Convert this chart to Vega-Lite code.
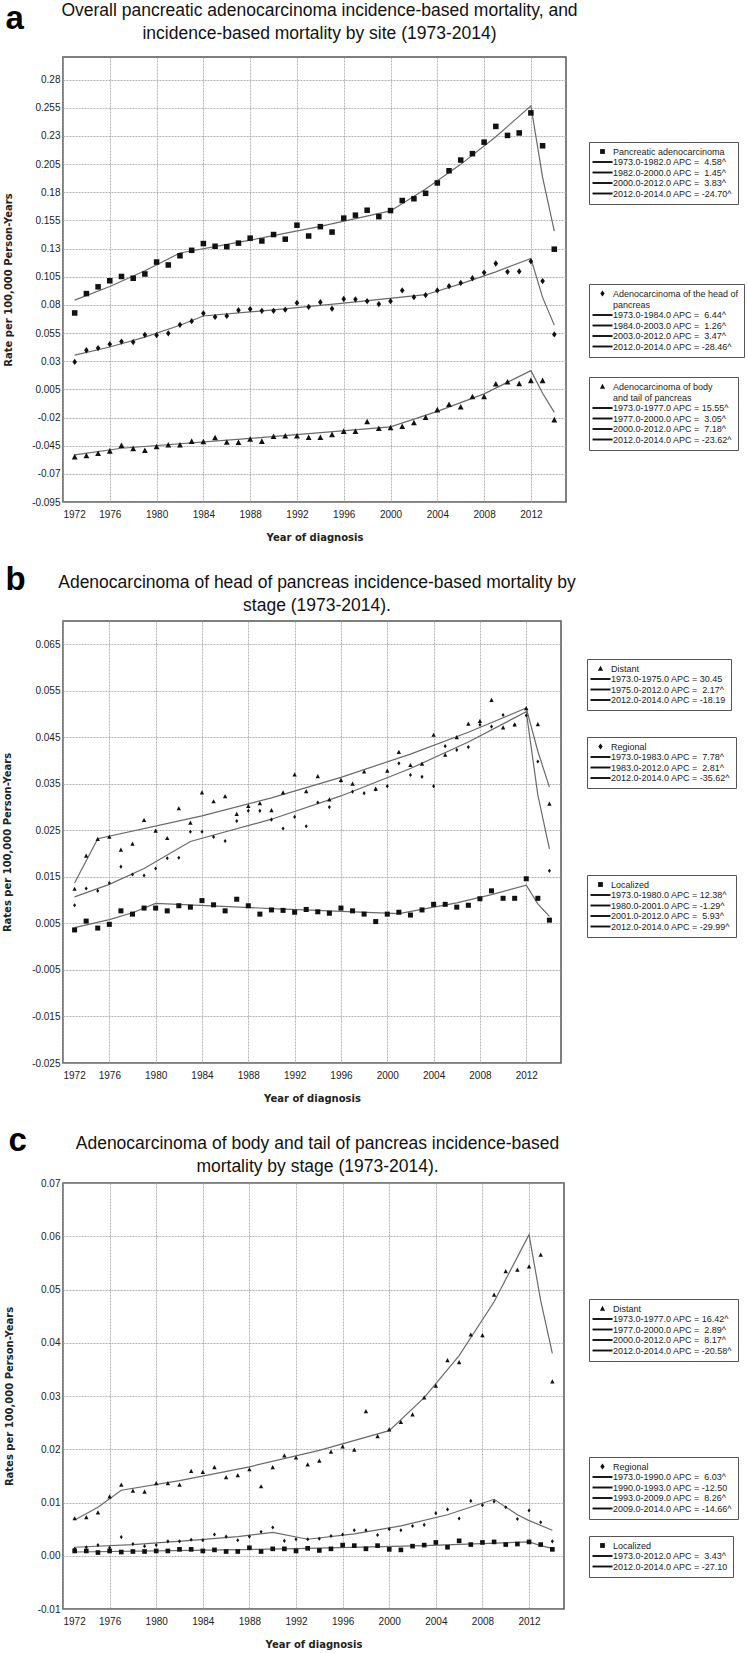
{
"$schema": "https://vega.github.io/schema/vega-lite/v6.json",
"padding": {"left": 1, "top": 0, "right": 0, "bottom": 0},
"background": "white",
"config": {
  "view": {"stroke": "#555", "strokeWidth": 1.5},
  "axis": {"labelFont": "Liberation Sans", "labelFontSize": 10, "labelColor": "#222", "titleFont": "DejaVu Sans", "titleFontSize": 10, "titleFontWeight": "bold", "titleColor": "#222", "gridColor": "#a0a0a0", "gridDash": [2, 1], "gridWidth": 0.8, "ticks": false, "domain": false, "labelOverlap": false},
  "title": {"font": "Liberation Sans", "fontSize": 17.5, "fontWeight": "normal", "color": "#111", "lineHeight": 23},
  "legend": {"labelFont": "Liberation Sans", "labelFontSize": 9, "labelColor": "#222", "labelLimit": 400, "symbolSize": 64, "symbolStrokeWidth": 0, "symbolFillColor": "#111", "symbolOffset": 4, "labelOffset": 6, "padding": 5, "rowPadding": 0.5, "strokeColor": "#555", "fillColor": "white"},
  "point": {"filled": true, "opacity": 1, "color": "#111"},
  "line": {"color": "#6a6a6a", "strokeWidth": 1.2}
},
"datasets": {
  "a1f": [{"x":1973,"y":0.0842},{"x":1976,"y":0.0963},{"x":1979,"y":0.1102},{"x":1982,"y":0.126},{"x":1988,"y":0.1374},{"x":1994,"y":0.1497},{"x":2000,"y":0.1634},{"x":2003,"y":0.1829},{"x":2006,"y":0.2047},{"x":2009,"y":0.2292},{"x":2012,"y":0.2566},{"x":2013,"y":0.1932},{"x":2014,"y":0.1455}],
  "a2f": [{"x":1973,"y":0.0353},{"x":1976,"y":0.0426},{"x":1979,"y":0.0513},{"x":1982,"y":0.0619},{"x":1984,"y":0.0701},{"x":1990,"y":0.0756},{"x":1996,"y":0.0815},{"x":2003,"y":0.089},{"x":2006,"y":0.0986},{"x":2009,"y":0.1093},{"x":2012,"y":0.1211},{"x":2013,"y":0.0866},{"x":2014,"y":0.062}],
  "a3f": [{"x":1973,"y":-0.0532},{"x":1977,"y":-0.0473},{"x":1988,"y":-0.0385},{"x":2000,"y":-0.0283},{"x":2004,"y":-0.0145},{"x":2008,"y":0.001},{"x":2012,"y":0.0216},{"x":2013,"y":0.0015},{"x":2014,"y":-0.0155}],
  "a1o": [{"x":1973,"y":0.0728,"s":"obs"},{"x":1974,"y":0.09,"s":"obs"},{"x":1975,"y":0.096,"s":"obs"},{"x":1976,"y":0.1014,"s":"obs"},{"x":1977,"y":0.1052,"s":"obs"},{"x":1978,"y":0.1036,"s":"obs"},{"x":1979,"y":0.1074,"s":"obs"},{"x":1980,"y":0.118,"s":"obs"},{"x":1981,"y":0.1154,"s":"obs"},{"x":1982,"y":0.1236,"s":"obs"},{"x":1983,"y":0.1284,"s":"obs"},{"x":1984,"y":0.1344,"s":"obs"},{"x":1985,"y":0.132,"s":"obs"},{"x":1986,"y":0.1316,"s":"obs"},{"x":1987,"y":0.1348,"s":"obs"},{"x":1988,"y":0.1392,"s":"obs"},{"x":1989,"y":0.1367,"s":"obs"},{"x":1990,"y":0.1424,"s":"obs"},{"x":1991,"y":0.1383,"s":"obs"},{"x":1992,"y":0.1507,"s":"obs"},{"x":1993,"y":0.1411,"s":"obs"},{"x":1994,"y":0.1494,"s":"obs"},{"x":1995,"y":0.1446,"s":"obs"},{"x":1996,"y":0.157,"s":"obs"},{"x":1997,"y":0.1596,"s":"obs"},{"x":1998,"y":0.164,"s":"obs"},{"x":1999,"y":0.1583,"s":"obs"},{"x":2000,"y":0.1637,"s":"obs"},{"x":2001,"y":0.1726,"s":"obs"},{"x":2002,"y":0.1742,"s":"obs"},{"x":2003,"y":0.179,"s":"obs"},{"x":2004,"y":0.1882,"s":"obs"},{"x":2005,"y":0.199,"s":"obs"},{"x":2006,"y":0.2085,"s":"obs"},{"x":2007,"y":0.2142,"s":"obs"},{"x":2008,"y":0.2244,"s":"obs"},{"x":2009,"y":0.2384,"s":"obs"},{"x":2010,"y":0.2304,"s":"obs"},{"x":2011,"y":0.2326,"s":"obs"},{"x":2012,"y":0.2504,"s":"obs"},{"x":2013,"y":0.2212,"s":"obs"},{"x":2014,"y":0.1294,"s":"obs"}],
  "a2o": [{"x":1973,"y":0.0293,"s":"obs"},{"x":1974,"y":0.0397,"s":"obs"},{"x":1975,"y":0.0416,"s":"obs"},{"x":1976,"y":0.0451,"s":"obs"},{"x":1977,"y":0.0474,"s":"obs"},{"x":1978,"y":0.047,"s":"obs"},{"x":1979,"y":0.0534,"s":"obs"},{"x":1980,"y":0.0531,"s":"obs"},{"x":1981,"y":0.0547,"s":"obs"},{"x":1982,"y":0.0623,"s":"obs"},{"x":1983,"y":0.0655,"s":"obs"},{"x":1984,"y":0.0725,"s":"obs"},{"x":1985,"y":0.0693,"s":"obs"},{"x":1986,"y":0.0702,"s":"obs"},{"x":1987,"y":0.0753,"s":"obs"},{"x":1988,"y":0.0763,"s":"obs"},{"x":1989,"y":0.0747,"s":"obs"},{"x":1990,"y":0.0747,"s":"obs"},{"x":1991,"y":0.0757,"s":"obs"},{"x":1992,"y":0.0817,"s":"obs"},{"x":1993,"y":0.0782,"s":"obs"},{"x":1994,"y":0.0823,"s":"obs"},{"x":1995,"y":0.0766,"s":"obs"},{"x":1996,"y":0.0852,"s":"obs"},{"x":1997,"y":0.0849,"s":"obs"},{"x":1998,"y":0.0833,"s":"obs"},{"x":1999,"y":0.0807,"s":"obs"},{"x":2000,"y":0.0833,"s":"obs"},{"x":2001,"y":0.0928,"s":"obs"},{"x":2002,"y":0.0868,"s":"obs"},{"x":2003,"y":0.0887,"s":"obs"},{"x":2004,"y":0.0928,"s":"obs"},{"x":2005,"y":0.0966,"s":"obs"},{"x":2006,"y":0.0995,"s":"obs"},{"x":2007,"y":0.1036,"s":"obs"},{"x":2008,"y":0.1087,"s":"obs"},{"x":2009,"y":0.1167,"s":"obs"},{"x":2010,"y":0.1093,"s":"obs"},{"x":2011,"y":0.1097,"s":"obs"},{"x":2012,"y":0.1186,"s":"obs"},{"x":2013,"y":0.1011,"s":"obs"},{"x":2014,"y":0.0537,"s":"obs"}],
  "a3o": [{"x":1973,"y":-0.055,"s":"obs"},{"x":1974,"y":-0.054,"s":"obs"},{"x":1975,"y":-0.052,"s":"obs"},{"x":1976,"y":-0.0499,"s":"obs"},{"x":1977,"y":-0.0449,"s":"obs"},{"x":1978,"y":-0.0477,"s":"obs"},{"x":1979,"y":-0.0493,"s":"obs"},{"x":1980,"y":-0.0461,"s":"obs"},{"x":1981,"y":-0.0445,"s":"obs"},{"x":1982,"y":-0.0445,"s":"obs"},{"x":1983,"y":-0.0413,"s":"obs"},{"x":1984,"y":-0.0416,"s":"obs"},{"x":1985,"y":-0.0381,"s":"obs"},{"x":1986,"y":-0.042,"s":"obs"},{"x":1987,"y":-0.0423,"s":"obs"},{"x":1988,"y":-0.0394,"s":"obs"},{"x":1989,"y":-0.0413,"s":"obs"},{"x":1990,"y":-0.0369,"s":"obs"},{"x":1991,"y":-0.0365,"s":"obs"},{"x":1992,"y":-0.0365,"s":"obs"},{"x":1993,"y":-0.0378,"s":"obs"},{"x":1994,"y":-0.0378,"s":"obs"},{"x":1995,"y":-0.0353,"s":"obs"},{"x":1996,"y":-0.0324,"s":"obs"},{"x":1997,"y":-0.0324,"s":"obs"},{"x":1998,"y":-0.0238,"s":"obs"},{"x":1999,"y":-0.0299,"s":"obs"},{"x":2000,"y":-0.0292,"s":"obs"},{"x":2001,"y":-0.028,"s":"obs"},{"x":2002,"y":-0.0248,"s":"obs"},{"x":2003,"y":-0.02,"s":"obs"},{"x":2004,"y":-0.0133,"s":"obs"},{"x":2005,"y":-0.0086,"s":"obs"},{"x":2006,"y":-0.0108,"s":"obs"},{"x":2007,"y":-0.0016,"s":"obs"},{"x":2008,"y":-0.0016,"s":"obs"},{"x":2009,"y":0.0096,"s":"obs"},{"x":2010,"y":0.0115,"s":"obs"},{"x":2011,"y":0.0099,"s":"obs"},{"x":2012,"y":0.0127,"s":"obs"},{"x":2013,"y":0.0127,"s":"obs"},{"x":2014,"y":-0.0222,"s":"obs"}],
  "b1f": [{"x":1973,"y":0.0137},{"x":1975,"y":0.0232},{"x":1984,"y":0.0281},{"x":1990,"y":0.032},{"x":1996,"y":0.0364},{"x":2002,"y":0.0414},{"x":2007,"y":0.0461},{"x":2012,"y":0.0513},{"x":2013,"y":0.042},{"x":2014,"y":0.0343}],
  "b2f": [{"x":1973,"y":0.0107},{"x":1976,"y":0.0134},{"x":1979,"y":0.0168},{"x":1983,"y":0.0226},{"x":1990,"y":0.0274},{"x":1996,"y":0.0324},{"x":2002,"y":0.0383},{"x":2007,"y":0.044},{"x":2012,"y":0.0505},{"x":2013,"y":0.0326},{"x":2014,"y":0.021}],
  "b3f": [{"x":1973,"y":0.0041},{"x":1976,"y":0.0058},{"x":1978,"y":0.0073},{"x":1980,"y":0.0093},{"x":1990,"y":0.0082},{"x":2001,"y":0.0071},{"x":2006,"y":0.0094},{"x":2009,"y":0.0112},{"x":2012,"y":0.0132},{"x":2013,"y":0.0092},{"x":2014,"y":0.0065}],
  "b1o": [{"x":1973,"y":0.0124,"s":"obs"},{"x":1974,"y":0.0195,"s":"obs"},{"x":1975,"y":0.0231,"s":"obs"},{"x":1976,"y":0.0236,"s":"obs"},{"x":1977,"y":0.0208,"s":"obs"},{"x":1978,"y":0.0221,"s":"obs"},{"x":1979,"y":0.0272,"s":"obs"},{"x":1980,"y":0.0249,"s":"obs"},{"x":1981,"y":0.0233,"s":"obs"},{"x":1982,"y":0.0297,"s":"obs"},{"x":1983,"y":0.0266,"s":"obs"},{"x":1984,"y":0.0331,"s":"obs"},{"x":1985,"y":0.0312,"s":"obs"},{"x":1986,"y":0.0323,"s":"obs"},{"x":1987,"y":0.0285,"s":"obs"},{"x":1988,"y":0.0302,"s":"obs"},{"x":1989,"y":0.0308,"s":"obs"},{"x":1990,"y":0.0293,"s":"obs"},{"x":1991,"y":0.0331,"s":"obs"},{"x":1992,"y":0.037,"s":"obs"},{"x":1993,"y":0.0334,"s":"obs"},{"x":1994,"y":0.0366,"s":"obs"},{"x":1995,"y":0.0316,"s":"obs"},{"x":1996,"y":0.0358,"s":"obs"},{"x":1997,"y":0.035,"s":"obs"},{"x":1998,"y":0.0376,"s":"obs"},{"x":1999,"y":0.0339,"s":"obs"},{"x":2000,"y":0.0378,"s":"obs"},{"x":2001,"y":0.0418,"s":"obs"},{"x":2002,"y":0.039,"s":"obs"},{"x":2003,"y":0.0393,"s":"obs"},{"x":2004,"y":0.0455,"s":"obs"},{"x":2005,"y":0.0412,"s":"obs"},{"x":2006,"y":0.045,"s":"obs"},{"x":2007,"y":0.0479,"s":"obs"},{"x":2008,"y":0.0485,"s":"obs"},{"x":2009,"y":0.053,"s":"obs"},{"x":2010,"y":0.0471,"s":"obs"},{"x":2011,"y":0.0477,"s":"obs"},{"x":2012,"y":0.0512,"s":"obs"},{"x":2013,"y":0.0478,"s":"obs"},{"x":2014,"y":0.0307,"s":"obs"}],
  "b2o": [{"x":1973,"y":0.0089,"s":"obs"},{"x":1974,"y":0.0125,"s":"obs"},{"x":1975,"y":0.012,"s":"obs"},{"x":1976,"y":0.0137,"s":"obs"},{"x":1977,"y":0.0172,"s":"obs"},{"x":1978,"y":0.0155,"s":"obs"},{"x":1979,"y":0.0153,"s":"obs"},{"x":1980,"y":0.0168,"s":"obs"},{"x":1981,"y":0.019,"s":"obs"},{"x":1982,"y":0.0191,"s":"obs"},{"x":1983,"y":0.0247,"s":"obs"},{"x":1984,"y":0.0247,"s":"obs"},{"x":1985,"y":0.0236,"s":"obs"},{"x":1986,"y":0.0227,"s":"obs"},{"x":1987,"y":0.027,"s":"obs"},{"x":1988,"y":0.0292,"s":"obs"},{"x":1989,"y":0.0292,"s":"obs"},{"x":1990,"y":0.0273,"s":"obs"},{"x":1991,"y":0.0254,"s":"obs"},{"x":1992,"y":0.0279,"s":"obs"},{"x":1993,"y":0.0259,"s":"obs"},{"x":1994,"y":0.031,"s":"obs"},{"x":1995,"y":0.03,"s":"obs"},{"x":1996,"y":0.0356,"s":"obs"},{"x":1997,"y":0.0333,"s":"obs"},{"x":1998,"y":0.033,"s":"obs"},{"x":1999,"y":0.0338,"s":"obs"},{"x":2000,"y":0.0345,"s":"obs"},{"x":2001,"y":0.0394,"s":"obs"},{"x":2002,"y":0.0369,"s":"obs"},{"x":2003,"y":0.0365,"s":"obs"},{"x":2004,"y":0.0345,"s":"obs"},{"x":2005,"y":0.0431,"s":"obs"},{"x":2006,"y":0.0423,"s":"obs"},{"x":2007,"y":0.0429,"s":"obs"},{"x":2008,"y":0.0477,"s":"obs"},{"x":2009,"y":0.0473,"s":"obs"},{"x":2010,"y":0.0498,"s":"obs"},{"x":2011,"y":0.0477,"s":"obs"},{"x":2012,"y":0.0497,"s":"obs"},{"x":2013,"y":0.0398,"s":"obs"},{"x":2014,"y":0.0163,"s":"obs"}],
  "b3o": [{"x":1973,"y":0.0036,"s":"obs"},{"x":1974,"y":0.0055,"s":"obs"},{"x":1975,"y":0.004,"s":"obs"},{"x":1976,"y":0.0048,"s":"obs"},{"x":1977,"y":0.0077,"s":"obs"},{"x":1978,"y":0.007,"s":"obs"},{"x":1979,"y":0.0083,"s":"obs"},{"x":1980,"y":0.0083,"s":"obs"},{"x":1981,"y":0.0077,"s":"obs"},{"x":1982,"y":0.0088,"s":"obs"},{"x":1983,"y":0.0085,"s":"obs"},{"x":1984,"y":0.0099,"s":"obs"},{"x":1985,"y":0.009,"s":"obs"},{"x":1986,"y":0.0077,"s":"obs"},{"x":1987,"y":0.0102,"s":"obs"},{"x":1988,"y":0.0088,"s":"obs"},{"x":1989,"y":0.007,"s":"obs"},{"x":1990,"y":0.0079,"s":"obs"},{"x":1991,"y":0.0078,"s":"obs"},{"x":1992,"y":0.0074,"s":"obs"},{"x":1993,"y":0.008,"s":"obs"},{"x":1994,"y":0.0075,"s":"obs"},{"x":1995,"y":0.0072,"s":"obs"},{"x":1996,"y":0.0083,"s":"obs"},{"x":1997,"y":0.0077,"s":"obs"},{"x":1998,"y":0.007,"s":"obs"},{"x":1999,"y":0.0054,"s":"obs"},{"x":2000,"y":0.007,"s":"obs"},{"x":2001,"y":0.0074,"s":"obs"},{"x":2002,"y":0.0068,"s":"obs"},{"x":2003,"y":0.0079,"s":"obs"},{"x":2004,"y":0.0091,"s":"obs"},{"x":2005,"y":0.0091,"s":"obs"},{"x":2006,"y":0.0085,"s":"obs"},{"x":2007,"y":0.0089,"s":"obs"},{"x":2008,"y":0.0103,"s":"obs"},{"x":2009,"y":0.012,"s":"obs"},{"x":2010,"y":0.0104,"s":"obs"},{"x":2011,"y":0.0104,"s":"obs"},{"x":2012,"y":0.0146,"s":"obs"},{"x":2013,"y":0.0104,"s":"obs"},{"x":2014,"y":0.0057,"s":"obs"}],
  "c1f": [{"x":1973,"y":0.0067},{"x":1975,"y":0.0091},{"x":1977,"y":0.0123},{"x":1982,"y":0.0141},{"x":1988,"y":0.0167},{"x":1994,"y":0.0198},{"x":2000,"y":0.0235},{"x":2003,"y":0.0297},{"x":2006,"y":0.0376},{"x":2009,"y":0.0477},{"x":2012,"y":0.0603},{"x":2013,"y":0.0479},{"x":2014,"y":0.038}],
  "c2f": [{"x":1973,"y":0.0016},{"x":1978,"y":0.0021},{"x":1983,"y":0.0029},{"x":1987,"y":0.0036},{"x":1990,"y":0.0044},{"x":1993,"y":0.0031},{"x":1997,"y":0.0041},{"x":2001,"y":0.0056},{"x":2005,"y":0.0077},{"x":2009,"y":0.0106},{"x":2011,"y":0.0077},{"x":2012,"y":0.0066},{"x":2014,"y":0.0048}],
  "c3f": [{"x":1973,"y":0.0007},{"x":1983,"y":0.001},{"x":1993,"y":0.00137},{"x":2003,"y":0.0019},{"x":2012,"y":0.0026},{"x":2013,"y":0.0019},{"x":2014,"y":0.0014}],
  "c1o": [{"x":1973,"y":0.007,"s":"obs"},{"x":1974,"y":0.0072,"s":"obs"},{"x":1975,"y":0.0081,"s":"obs"},{"x":1976,"y":0.0111,"s":"obs"},{"x":1977,"y":0.0133,"s":"obs"},{"x":1978,"y":0.0122,"s":"obs"},{"x":1979,"y":0.012,"s":"obs"},{"x":1980,"y":0.0136,"s":"obs"},{"x":1981,"y":0.0136,"s":"obs"},{"x":1982,"y":0.0133,"s":"obs"},{"x":1983,"y":0.0159,"s":"obs"},{"x":1984,"y":0.0157,"s":"obs"},{"x":1985,"y":0.0166,"s":"obs"},{"x":1986,"y":0.0147,"s":"obs"},{"x":1987,"y":0.0151,"s":"obs"},{"x":1988,"y":0.0162,"s":"obs"},{"x":1989,"y":0.013,"s":"obs"},{"x":1990,"y":0.0166,"s":"obs"},{"x":1991,"y":0.0188,"s":"obs"},{"x":1992,"y":0.0184,"s":"obs"},{"x":1993,"y":0.0171,"s":"obs"},{"x":1994,"y":0.0178,"s":"obs"},{"x":1995,"y":0.0195,"s":"obs"},{"x":1996,"y":0.0205,"s":"obs"},{"x":1997,"y":0.0199,"s":"obs"},{"x":1998,"y":0.0271,"s":"obs"},{"x":1999,"y":0.0224,"s":"obs"},{"x":2000,"y":0.0237,"s":"obs"},{"x":2001,"y":0.0251,"s":"obs"},{"x":2002,"y":0.0265,"s":"obs"},{"x":2003,"y":0.0297,"s":"obs"},{"x":2004,"y":0.0319,"s":"obs"},{"x":2005,"y":0.0367,"s":"obs"},{"x":2006,"y":0.0363,"s":"obs"},{"x":2007,"y":0.0415,"s":"obs"},{"x":2008,"y":0.0414,"s":"obs"},{"x":2009,"y":0.049,"s":"obs"},{"x":2010,"y":0.0534,"s":"obs"},{"x":2011,"y":0.0537,"s":"obs"},{"x":2012,"y":0.0543,"s":"obs"},{"x":2013,"y":0.0565,"s":"obs"},{"x":2014,"y":0.0327,"s":"obs"}],
  "c2o": [{"x":1973,"y":0.0013,"s":"obs"},{"x":1974,"y":0.0016,"s":"obs"},{"x":1975,"y":0.002,"s":"obs"},{"x":1976,"y":0.0015,"s":"obs"},{"x":1977,"y":0.0035,"s":"obs"},{"x":1978,"y":0.0022,"s":"obs"},{"x":1979,"y":0.0018,"s":"obs"},{"x":1980,"y":0.002,"s":"obs"},{"x":1981,"y":0.0027,"s":"obs"},{"x":1982,"y":0.0027,"s":"obs"},{"x":1983,"y":0.003,"s":"obs"},{"x":1984,"y":0.0029,"s":"obs"},{"x":1985,"y":0.004,"s":"obs"},{"x":1986,"y":0.0036,"s":"obs"},{"x":1987,"y":0.0029,"s":"obs"},{"x":1988,"y":0.0036,"s":"obs"},{"x":1989,"y":0.0045,"s":"obs"},{"x":1990,"y":0.0053,"s":"obs"},{"x":1991,"y":0.0028,"s":"obs"},{"x":1992,"y":0.0031,"s":"obs"},{"x":1993,"y":0.0031,"s":"obs"},{"x":1994,"y":0.0032,"s":"obs"},{"x":1995,"y":0.0037,"s":"obs"},{"x":1996,"y":0.004,"s":"obs"},{"x":1997,"y":0.0048,"s":"obs"},{"x":1998,"y":0.0048,"s":"obs"},{"x":1999,"y":0.0039,"s":"obs"},{"x":2000,"y":0.005,"s":"obs"},{"x":2001,"y":0.0048,"s":"obs"},{"x":2002,"y":0.0056,"s":"obs"},{"x":2003,"y":0.0058,"s":"obs"},{"x":2004,"y":0.008,"s":"obs"},{"x":2005,"y":0.0087,"s":"obs"},{"x":2006,"y":0.007,"s":"obs"},{"x":2007,"y":0.0103,"s":"obs"},{"x":2008,"y":0.0095,"s":"obs"},{"x":2009,"y":0.0102,"s":"obs"},{"x":2010,"y":0.0091,"s":"obs"},{"x":2011,"y":0.0069,"s":"obs"},{"x":2012,"y":0.0085,"s":"obs"},{"x":2013,"y":0.0063,"s":"obs"},{"x":2014,"y":0.0027,"s":"obs"}],
  "c3o": [{"x":1973,"y":0.0009,"s":"obs"},{"x":1974,"y":0.0009,"s":"obs"},{"x":1975,"y":0.0006,"s":"obs"},{"x":1976,"y":0.0009,"s":"obs"},{"x":1977,"y":0.0007,"s":"obs"},{"x":1978,"y":0.0008,"s":"obs"},{"x":1979,"y":0.0008,"s":"obs"},{"x":1980,"y":0.0009,"s":"obs"},{"x":1981,"y":0.0009,"s":"obs"},{"x":1982,"y":0.0012,"s":"obs"},{"x":1983,"y":0.0012,"s":"obs"},{"x":1984,"y":0.0009,"s":"obs"},{"x":1985,"y":0.0011,"s":"obs"},{"x":1986,"y":0.0008,"s":"obs"},{"x":1987,"y":0.0008,"s":"obs"},{"x":1988,"y":0.0015,"s":"obs"},{"x":1989,"y":0.0008,"s":"obs"},{"x":1990,"y":0.0013,"s":"obs"},{"x":1991,"y":0.0013,"s":"obs"},{"x":1992,"y":0.0009,"s":"obs"},{"x":1993,"y":0.0014,"s":"obs"},{"x":1994,"y":0.001,"s":"obs"},{"x":1995,"y":0.0013,"s":"obs"},{"x":1996,"y":0.002,"s":"obs"},{"x":1997,"y":0.0019,"s":"obs"},{"x":1998,"y":0.0013,"s":"obs"},{"x":1999,"y":0.0019,"s":"obs"},{"x":2000,"y":0.0012,"s":"obs"},{"x":2001,"y":0.0011,"s":"obs"},{"x":2002,"y":0.0018,"s":"obs"},{"x":2003,"y":0.002,"s":"obs"},{"x":2004,"y":0.0025,"s":"obs"},{"x":2005,"y":0.0016,"s":"obs"},{"x":2006,"y":0.0028,"s":"obs"},{"x":2007,"y":0.0021,"s":"obs"},{"x":2008,"y":0.0025,"s":"obs"},{"x":2009,"y":0.0026,"s":"obs"},{"x":2010,"y":0.0021,"s":"obs"},{"x":2011,"y":0.0022,"s":"obs"},{"x":2012,"y":0.0026,"s":"obs"},{"x":2013,"y":0.0021,"s":"obs"},{"x":2014,"y":0.0012,"s":"obs"}]
},
"spacing": 19,
"vconcat": [
{
  "width": 503, "height": 445,
  "title": {"text": ["Overall pancreatic adenocarcinoma incidence-based mortality, and", "incidence-based mortality by site (1973-2014)"], "anchor": "middle", "frame": "group", "dx": 5, "offset": -40},
  "resolve": {"scale": {"shape": "independent"}, "legend": {"shape": "independent"}},
  "layer": [
    {"data": {"name": "a1f"}, "mark": "line", "encoding": {
      "x": {"field": "x", "type": "quantitative", "scale": {"domain": [1972, 2015], "nice": false, "zero": false}, "axis": {"orient": "bottom", "values": [1972,1976,1980,1984,1988,1992,1996,2000,2004,2008,2012], "tickCount": 20, "format": "d", "title": "Year of diagnosis", "labelPadding": 7, "titlePadding": 13, "grid": true}},
      "y": {"field": "y", "type": "quantitative", "scale": {"domain": [-0.095, 0.3], "nice": false, "zero": false}, "axis": {"values": [-0.095,-0.07,-0.045,-0.02,0.005,0.03,0.055,0.08,0.105,0.13,0.155,0.18,0.205,0.23,0.255,0.28], "tickCount": 30, "labelExpr": "(datum.value < 0 ? '-' : '') + format(abs(datum.value), abs(round(datum.value * 1000)) % 10 == 0 ? '.2f' : '.3f')", "labelOverlap": false, "title": "Rate per 100,000 Person-Years", "titleX": -55, "titleBaseline": "middle", "labelPadding": 3, "grid": true}}}},
    {"data": {"name": "a2f"}, "mark": "line", "encoding": {
      "x": {"field": "x", "type": "quantitative", "scale": {"domain": [1972, 2015], "nice": false, "zero": false}, "axis": null},
      "y": {"field": "y", "type": "quantitative", "scale": {"domain": [-0.095, 0.3], "nice": false, "zero": false}}}},
    {"data": {"name": "a3f"}, "mark": "line", "encoding": {
      "x": {"field": "x", "type": "quantitative", "scale": {"domain": [1972, 2015], "nice": false, "zero": false}, "axis": null},
      "y": {"field": "y", "type": "quantitative", "scale": {"domain": [-0.095, 0.3], "nice": false, "zero": false}}}},
    {"data": {"name": "a1o"}, "mark": {"type": "point", "size": 85}, "encoding": {
      "x": {"field": "x", "type": "quantitative", "scale": {"domain": [1972, 2015], "nice": false, "zero": false}, "axis": {"orient": "top", "labels": false, "ticks": false, "domain": false, "grid": false, "title": "a", "titleFont": "Liberation Sans", "titleFontSize": 33, "titleFontWeight": "bold", "titleColor": "#000", "titleX": -58, "titleY": -29, "titleAlign": "left", "titleBaseline": "alphabetic"}},
      "y": {"field": "y", "type": "quantitative", "scale": {"domain": [-0.095, 0.3], "nice": false, "zero": false}},
      "shape": {"field": "s", "type": "nominal", "scale": {"domain": ["obs", "1973.0-1982.0 APC =\u00a0\u00a04.58^", "1982.0-2000.0 APC =\u00a0\u00a01.45^", "2000.0-2012.0 APC =\u00a0\u00a03.83^", "2012.0-2014.0 APC = -24.70^"], "range": ["M-0.6,-0.6H0.6V0.6H-0.6Z", "M-2.5,-0.24H2.5V0.24H-2.5Z", "M-2.5,-0.24H2.5V0.24H-2.5Z", "M-2.5,-0.24H2.5V0.24H-2.5Z", "M-2.5,-0.24H2.5V0.24H-2.5Z"]}, "legend": {"orient": "none", "legendX": 526, "legendY": 85, "title": null, "labelExpr": "datum.value == 'obs' ? 'Pancreatic adenocarcinoma' : datum.label"}}}},
    {"data": {"name": "a2o"}, "mark": {"type": "point", "size": 70}, "encoding": {
      "x": {"field": "x", "type": "quantitative", "scale": {"domain": [1972, 2015], "nice": false, "zero": false}, "axis": null},
      "y": {"field": "y", "type": "quantitative", "scale": {"domain": [-0.095, 0.3], "nice": false, "zero": false}},
      "shape": {"field": "s", "type": "nominal", "scale": {"domain": ["obs", "1973.0-1984.0 APC =\u00a0\u00a06.44^", "1984.0-2003.0 APC =\u00a0\u00a01.26^", "2003.0-2012.0 APC =\u00a0\u00a03.47^", "2012.0-2014.0 APC = -28.46^"], "range": ["M0,-0.75L0.55,0L0,0.75L-0.55,0Z", "M-2.5,-0.24H2.5V0.24H-2.5Z", "M-2.5,-0.24H2.5V0.24H-2.5Z", "M-2.5,-0.24H2.5V0.24H-2.5Z", "M-2.5,-0.24H2.5V0.24H-2.5Z"]}, "legend": {"orient": "none", "legendX": 526, "legendY": 227, "title": null, "labelExpr": "datum.value == 'obs' ? ['Adenocarcinoma of the head of', '\u00a0\u00a0\u00a0\u00a0\u00a0\u00a0\u00a0\u00a0\u00a0\u00a0\u00a0\u00a0\u00a0\u00a0\u00a0pancreas'] : datum.label"}}}},
    {"data": {"name": "a3o"}, "mark": {"type": "point", "size": 80}, "encoding": {
      "x": {"field": "x", "type": "quantitative", "scale": {"domain": [1972, 2015], "nice": false, "zero": false}, "axis": null},
      "y": {"field": "y", "type": "quantitative", "scale": {"domain": [-0.095, 0.3], "nice": false, "zero": false}},
      "shape": {"field": "s", "type": "nominal", "scale": {"domain": ["obs", "1973.0-1977.0 APC = 15.55^", "1977.0-2000.0 APC =\u00a0\u00a03.05^", "2000.0-2012.0 APC =\u00a0\u00a07.18^", "2012.0-2014.0 APC = -23.62^"], "range": ["M0,-0.7L0.65,0.55H-0.65Z", "M-2.5,-0.24H2.5V0.24H-2.5Z", "M-2.5,-0.24H2.5V0.24H-2.5Z", "M-2.5,-0.24H2.5V0.24H-2.5Z", "M-2.5,-0.24H2.5V0.24H-2.5Z"]}, "legend": {"orient": "none", "legendX": 526, "legendY": 320, "title": null, "labelExpr": "datum.value == 'obs' ? ['Adenocarcinoma of body', '\u00a0\u00a0\u00a0\u00a0and tail of pancreas'] : datum.label"}}}}
  ]
},
{
  "width": 498, "height": 442,
  "title": {"text": ["Adenocarcinoma of head of pancreas incidence-based mortality by", "stage (1973-2014)."], "anchor": "middle", "frame": "group", "dx": 5, "offset": -51},
  "resolve": {"scale": {"shape": "independent"}, "legend": {"shape": "independent"}},
  "layer": [
    {"data": {"name": "b1f"}, "mark": "line", "encoding": {
      "x": {"field": "x", "type": "quantitative", "scale": {"domain": [1972, 2015], "nice": false, "zero": false}, "axis": {"orient": "bottom", "values": [1972,1976,1980,1984,1988,1992,1996,2000,2004,2008,2012], "tickCount": 20, "format": "d", "title": "Year of diagnosis", "labelPadding": 7, "titlePadding": 13, "grid": true}},
      "y": {"field": "y", "type": "quantitative", "scale": {"domain": [-0.025, 0.07], "nice": false, "zero": false}, "axis": {"values": [-0.025,-0.015,-0.005,0.005,0.015,0.025,0.035,0.045,0.055,0.065], "tickCount": 30, "labelExpr": "(datum.value < 0 ? '-' : '') + format(abs(datum.value), '.3f')", "labelOverlap": false, "title": "Rates per 100,000 Person-Years", "titleX": -56, "titleBaseline": "middle", "labelPadding": 3, "grid": true}}}},
    {"data": {"name": "b2f"}, "mark": "line", "encoding": {
      "x": {"field": "x", "type": "quantitative", "scale": {"domain": [1972, 2015], "nice": false, "zero": false}, "axis": null},
      "y": {"field": "y", "type": "quantitative", "scale": {"domain": [-0.025, 0.07], "nice": false, "zero": false}}}},
    {"data": {"name": "b3f"}, "mark": "line", "encoding": {
      "x": {"field": "x", "type": "quantitative", "scale": {"domain": [1972, 2015], "nice": false, "zero": false}, "axis": null},
      "y": {"field": "y", "type": "quantitative", "scale": {"domain": [-0.025, 0.07], "nice": false, "zero": false}}}},
    {"data": {"name": "b1o"}, "mark": {"type": "point", "size": 45}, "encoding": {
      "x": {"field": "x", "type": "quantitative", "scale": {"domain": [1972, 2015], "nice": false, "zero": false}, "axis": {"orient": "top", "labels": false, "ticks": false, "domain": false, "grid": false, "title": "b", "titleFont": "Liberation Sans", "titleFontSize": 33, "titleFontWeight": "bold", "titleColor": "#000", "titleX": -58, "titleY": -32, "titleAlign": "left", "titleBaseline": "alphabetic"}},
      "y": {"field": "y", "type": "quantitative", "scale": {"domain": [-0.025, 0.07], "nice": false, "zero": false}},
      "shape": {"field": "s", "type": "nominal", "scale": {"domain": ["obs", "1973.0-1975.0 APC = 30.45", "1975.0-2012.0 APC =\u00a0\u00a02.17^", "2012.0-2014.0 APC = -18.19"], "range": ["M0,-0.7L0.65,0.55H-0.65Z", "M-2.5,-0.24H2.5V0.24H-2.5Z", "M-2.5,-0.24H2.5V0.24H-2.5Z", "M-2.5,-0.24H2.5V0.24H-2.5Z"]}, "legend": {"orient": "none", "legendX": 524, "legendY": 38, "title": null, "labelExpr": "datum.value == 'obs' ? 'Distant' : datum.label"}}}},
    {"data": {"name": "b2o"}, "mark": {"type": "point", "size": 30}, "encoding": {
      "x": {"field": "x", "type": "quantitative", "scale": {"domain": [1972, 2015], "nice": false, "zero": false}, "axis": null},
      "y": {"field": "y", "type": "quantitative", "scale": {"domain": [-0.025, 0.07], "nice": false, "zero": false}},
      "shape": {"field": "s", "type": "nominal", "scale": {"domain": ["obs", "1973.0-1983.0 APC =\u00a0\u00a07.78^", "1983.0-2012.0 APC =\u00a0\u00a02.81^", "2012.0-2014.0 APC = -35.62^"], "range": ["M0,-0.75L0.55,0L0,0.75L-0.55,0Z", "M-2.5,-0.24H2.5V0.24H-2.5Z", "M-2.5,-0.24H2.5V0.24H-2.5Z", "M-2.5,-0.24H2.5V0.24H-2.5Z"]}, "legend": {"orient": "none", "legendX": 524, "legendY": 116, "title": null, "labelExpr": "datum.value == 'obs' ? 'Regional' : datum.label"}}}},
    {"data": {"name": "b3o"}, "mark": {"type": "point", "size": 70}, "encoding": {
      "x": {"field": "x", "type": "quantitative", "scale": {"domain": [1972, 2015], "nice": false, "zero": false}, "axis": null},
      "y": {"field": "y", "type": "quantitative", "scale": {"domain": [-0.025, 0.07], "nice": false, "zero": false}},
      "shape": {"field": "s", "type": "nominal", "scale": {"domain": ["obs", "1973.0-1980.0 APC = 12.38^", "1980.0-2001.0 APC = -1.29^", "2001.0-2012.0 APC =\u00a0\u00a05.93^", "2012.0-2014.0 APC = -29.99^"], "range": ["M-0.6,-0.6H0.6V0.6H-0.6Z", "M-2.5,-0.24H2.5V0.24H-2.5Z", "M-2.5,-0.24H2.5V0.24H-2.5Z", "M-2.5,-0.24H2.5V0.24H-2.5Z", "M-2.5,-0.24H2.5V0.24H-2.5Z"]}, "legend": {"orient": "none", "legendX": 524, "legendY": 254, "title": null, "labelExpr": "datum.value == 'obs' ? 'Localized' : datum.label"}}}}
  ]
},
{
  "width": 501, "height": 426,
  "title": {"text": ["Adenocarcinoma of body and tail of pancreas incidence-based", "mortality by stage (1973-2014)."], "anchor": "middle", "frame": "group", "dx": 4, "offset": -51},
  "resolve": {"scale": {"shape": "independent"}, "legend": {"shape": "independent"}},
  "layer": [
    {"data": {"name": "c1f"}, "mark": "line", "encoding": {
      "x": {"field": "x", "type": "quantitative", "scale": {"domain": [1972, 2015], "nice": false, "zero": false}, "axis": {"orient": "bottom", "values": [1972,1976,1980,1984,1988,1992,1996,2000,2004,2008,2012], "tickCount": 20, "format": "d", "title": "Year of diagnosis", "labelPadding": 7, "titlePadding": 13, "grid": true}},
      "y": {"field": "y", "type": "quantitative", "scale": {"domain": [-0.01, 0.07], "nice": false, "zero": false}, "axis": {"values": [-0.01,0,0.01,0.02,0.03,0.04,0.05,0.06,0.07], "tickCount": 30, "labelExpr": "(datum.value < 0 ? '-' : '') + format(abs(datum.value), '.2f')", "labelOverlap": false, "title": "Rates per 100,000 Person-Years", "titleX": -54, "titleBaseline": "middle", "labelPadding": 3, "grid": true}}}},
    {"data": {"name": "c2f"}, "mark": "line", "encoding": {
      "x": {"field": "x", "type": "quantitative", "scale": {"domain": [1972, 2015], "nice": false, "zero": false}, "axis": null},
      "y": {"field": "y", "type": "quantitative", "scale": {"domain": [-0.01, 0.07], "nice": false, "zero": false}}}},
    {"data": {"name": "c3f"}, "mark": "line", "encoding": {
      "x": {"field": "x", "type": "quantitative", "scale": {"domain": [1972, 2015], "nice": false, "zero": false}, "axis": null},
      "y": {"field": "y", "type": "quantitative", "scale": {"domain": [-0.01, 0.07], "nice": false, "zero": false}}}},
    {"data": {"name": "c1o"}, "mark": {"type": "point", "size": 45}, "encoding": {
      "x": {"field": "x", "type": "quantitative", "scale": {"domain": [1972, 2015], "nice": false, "zero": false}, "axis": {"orient": "top", "labels": false, "ticks": false, "domain": false, "grid": false, "title": "c", "titleFont": "Liberation Sans", "titleFontSize": 33, "titleFontWeight": "bold", "titleColor": "#000", "titleX": -55, "titleY": -33, "titleAlign": "left", "titleBaseline": "alphabetic"}},
      "y": {"field": "y", "type": "quantitative", "scale": {"domain": [-0.01, 0.07], "nice": false, "zero": false}},
      "shape": {"field": "s", "type": "nominal", "scale": {"domain": ["obs", "1973.0-1977.0 APC = 16.42^", "1977.0-2000.0 APC =\u00a0\u00a02.89^", "2000.0-2012.0 APC =\u00a0\u00a08.17^", "2012.0-2014.0 APC = -20.58^"], "range": ["M0,-0.7L0.65,0.55H-0.65Z", "M-2.5,-0.24H2.5V0.24H-2.5Z", "M-2.5,-0.24H2.5V0.24H-2.5Z", "M-2.5,-0.24H2.5V0.24H-2.5Z", "M-2.5,-0.24H2.5V0.24H-2.5Z"]}, "legend": {"orient": "none", "legendX": 526, "legendY": 116, "title": null, "labelExpr": "datum.value == 'obs' ? 'Distant' : datum.label"}}}},
    {"data": {"name": "c2o"}, "mark": {"type": "point", "size": 30}, "encoding": {
      "x": {"field": "x", "type": "quantitative", "scale": {"domain": [1972, 2015], "nice": false, "zero": false}, "axis": null},
      "y": {"field": "y", "type": "quantitative", "scale": {"domain": [-0.01, 0.07], "nice": false, "zero": false}},
      "shape": {"field": "s", "type": "nominal", "scale": {"domain": ["obs", "1973.0-1990.0 APC =\u00a0\u00a06.03^", "1990.0-1993.0 APC = -12.50", "1993.0-2009.0 APC =\u00a0\u00a08.26^", "2009.0-2014.0 APC = -14.66^"], "range": ["M0,-0.75L0.55,0L0,0.75L-0.55,0Z", "M-2.5,-0.24H2.5V0.24H-2.5Z", "M-2.5,-0.24H2.5V0.24H-2.5Z", "M-2.5,-0.24H2.5V0.24H-2.5Z", "M-2.5,-0.24H2.5V0.24H-2.5Z"]}, "legend": {"orient": "none", "legendX": 526, "legendY": 274, "title": null, "labelExpr": "datum.value == 'obs' ? 'Regional' : datum.label"}}}},
    {"data": {"name": "c3o"}, "mark": {"type": "point", "size": 60}, "encoding": {
      "x": {"field": "x", "type": "quantitative", "scale": {"domain": [1972, 2015], "nice": false, "zero": false}, "axis": null},
      "y": {"field": "y", "type": "quantitative", "scale": {"domain": [-0.01, 0.07], "nice": false, "zero": false}},
      "shape": {"field": "s", "type": "nominal", "scale": {"domain": ["obs", "1973.0-2012.0 APC =\u00a0\u00a03.43^", "2012.0-2014.0 APC = -27.10"], "range": ["M-0.6,-0.6H0.6V0.6H-0.6Z", "M-2.5,-0.24H2.5V0.24H-2.5Z", "M-2.5,-0.24H2.5V0.24H-2.5Z"]}, "legend": {"orient": "none", "legendX": 526, "legendY": 353, "title": null, "labelExpr": "datum.value == 'obs' ? 'Localized' : datum.label"}}}}
  ]
}
]
}
